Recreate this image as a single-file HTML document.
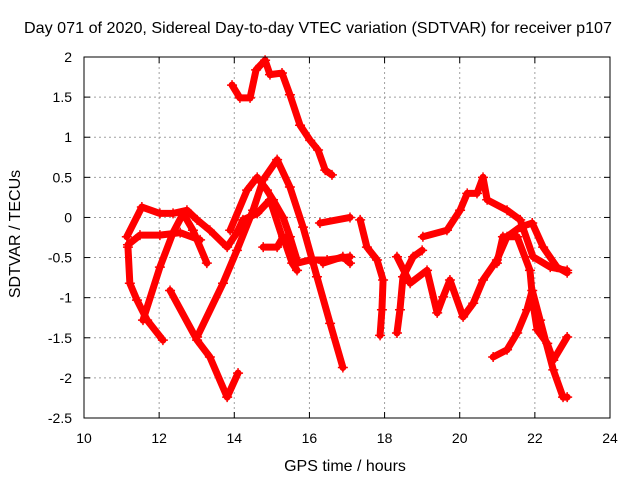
<!DOCTYPE html>
<html><head><meta charset="utf-8"><style>
body{margin:0;background:#fff}
svg{display:block;font-family:"Liberation Sans",sans-serif}
</style></head><body>
<svg id="chart" width="640" height="480" viewBox="0 0 640 480" xmlns="http://www.w3.org/2000/svg">
<rect width="640" height="480" fill="#fff"/>
<text x="318" y="33" font-size="16" text-anchor="middle" textLength="588" lengthAdjust="spacingAndGlyphs">Day 071 of 2020, Sidereal Day-to-day VTEC variation (SDTVAR) for receiver p107</text>
<text x="345" y="471" font-size="16" text-anchor="middle">GPS time / hours</text>
<text transform="translate(20,234) rotate(-90)" font-size="16" text-anchor="middle">SDTVAR / TECUs</text>
<g id="grid"></g>
<g id="ticks"></g>
<g id="series"></g>
<rect x="84" y="57" width="526" height="361" fill="none" stroke="#000" stroke-width="1"/>
</svg>
<script>
const xTicks=[10,12,14,16,18,20,22,24];
const yTicks=[2,1.5,1,0.5,0,-0.5,-1,-1.5,-2,-2.5];
const yTickLabels=["2","1.5","1","0.5","0","-0.5","-1","-1.5","-2","-2.5"];
const trackA=[[13.94,1.65],[14.15,1.49],[14.42,1.49],[14.58,1.84],[14.82,1.96],[14.95,1.78],[15.27,1.80],[15.48,1.53],[15.75,1.15],[16.02,0.96],[16.23,0.84],[16.42,0.59],[16.60,0.53]];
const trackB=[[11.14,-0.24],[11.54,0.13],[12.02,0.05],[12.37,0.05],[12.74,0.09],[13.01,-0.03],[13.35,-0.16],[13.81,-0.37],[14.07,-0.19],[14.23,-0.03],[14.61,0.05],[14.95,0.22],[15.30,-0.28],[15.67,-0.57],[16.02,-0.53],[16.47,-0.53],[17.08,-0.49]];
const trackB2=[[11.17,-0.34],[11.49,-0.22],[12.02,-0.22],[12.56,-0.19],[13.09,-0.28]];
const trackC=[[11.17,-0.37],[11.22,-0.82],[11.41,-1.03],[11.68,-1.28],[12.10,-1.53]];
const trackD=[[11.57,-1.28],[12.02,-0.62],[12.37,-0.19],[12.64,0.05],[12.90,-0.16],[13.27,-0.57]];
const trackE=[[12.29,-0.91],[13.01,-1.53],[13.35,-1.74],[13.81,-2.24],[14.10,-1.94]];
const trackF=[[13.01,-1.49],[13.70,-0.82],[14.07,-0.41],[14.50,0.09],[14.77,0.47],[15.14,0.72],[15.48,0.38],[15.83,-0.12],[16.20,-0.74],[16.55,-1.32],[16.89,-1.87]];
const trackG=[[13.89,-0.16],[14.34,0.34],[14.61,0.50],[14.87,0.34],[15.03,0.22],[15.30,0.00],[15.48,-0.24],[15.67,-0.53]];
const trackH=[[14.77,-0.37],[15.14,-0.37],[15.30,-0.24],[15.54,-0.57],[15.67,-0.66]];
const trackI=[[16.28,-0.07],[17.08,0.0]];
const trackJ=[[16.36,-0.57],[16.89,-0.49],[17.08,-0.57]];
const trackK=[[17.35,-0.03],[17.53,-0.37],[17.80,-0.53],[17.96,-0.78],[17.93,-1.15],[17.88,-1.47]];
const trackL1=[[18.33,-1.44],[18.41,-1.15],[18.49,-0.74],[18.76,-0.49],[19.00,-0.41]];
const trackL2=[[18.33,-0.49],[18.68,-0.82],[19.13,-0.66],[19.40,-1.19],[19.56,-0.99],[19.74,-0.78],[20.09,-1.24],[20.36,-1.07],[20.62,-0.78],[20.99,-0.53],[21.26,-0.24],[21.61,-0.12],[21.93,-0.07],[22.22,-0.37],[22.59,-0.62],[22.86,-0.69]];
const trackM=[[19.02,-0.24],[19.66,-0.16],[20.01,0.09],[20.20,0.30],[20.46,0.30],[20.62,0.50],[20.73,0.22],[21.26,0.09],[21.61,-0.03],[21.95,-0.49],[22.41,-0.62],[22.86,-0.66]];
const trackN=[[20.99,-0.57],[21.15,-0.24],[21.53,-0.24],[21.87,-0.66],[21.95,-1.07],[22.06,-1.40],[22.33,-1.57],[22.49,-1.78],[22.86,-1.49]];
const trackO=[[20.89,-1.74],[21.26,-1.65],[21.53,-1.44],[21.79,-1.15],[21.93,-0.91],[22.14,-1.28],[22.49,-1.90],[22.75,-2.24],[22.86,-2.24]];
const tracks=[trackA,trackB,trackB2,trackC,trackD,trackE,trackF,trackG,trackH,trackI,trackJ,trackK,trackL1,trackL2,trackM,trackN,trackO];

const NS="http://www.w3.org/2000/svg";
const X0=84,X1=610,Y0=57,Y1=418;
function xs(h){return X0+(h-10)/14*(X1-X0);}
function ys(v){return Y0+(2-v)/4.5*(Y1-Y0);}
function mk(tag,attrs,parent){const e=document.createElementNS(NS,tag);for(const k in attrs)e.setAttribute(k,attrs[k]);parent.appendChild(e);return e;}
const grid=document.getElementById('grid'),ticks=document.getElementById('ticks'),series=document.getElementById('series');
xTicks.forEach(t=>{
  const x=xs(t);
  if(t>10&&t<24){const g=mk('line',{x1:x,x2:x,y1:Y0,y2:Y1,stroke:'#a0a0a0','stroke-dasharray':'2,3'},grid);
  
  }
  mk('line',{x1:x,x2:x,y1:Y1,y2:Y1-6,stroke:'#000'},ticks);
  mk('line',{x1:x,x2:x,y1:Y0,y2:Y0+6,stroke:'#000'},ticks);
  const l=mk('text',{x:x,y:443,'font-size':14,'text-anchor':'middle'},ticks);
  l.textContent=String(t);
  
  
});
yTicks.forEach((t,i)=>{
  const y=ys(t);
  if(i>0&&i<yTicks.length-1){const g=mk('line',{x1:X0,x2:X1,y1:y,y2:y,stroke:'#a0a0a0','stroke-dasharray':'2,3'},grid);
  
  }
  mk('line',{x1:X0,x2:X0+6,y1:y,y2:y,stroke:'#000'},ticks);
  mk('line',{x1:X1,x2:X1-6,y1:y,y2:y,stroke:'#000'},ticks);
  const l=mk('text',{x:72,y:y+5,'font-size':14,'text-anchor':'end'},ticks);
  l.textContent=yTickLabels[i];
  
  
});
tracks.forEach(tr=>{
  const p=mk('polyline',{points:tr.map(d=>xs(d[0])+','+ys(d[1])).join(' '),fill:'none',stroke:'#ff0000','stroke-width':7,'stroke-linejoin':'round','stroke-linecap':'round'},series);
  
  
  tr.forEach(d=>{
    const x=xs(d[0]),y=ys(d[1]);
    const m=mk('path',{d:`M${x-5},${y}H${x+5}M${x},${y-5}V${y+5}`,stroke:'#ff0000','stroke-width':1.5},series);
    
    
  });
});
</script>
</body></html>
